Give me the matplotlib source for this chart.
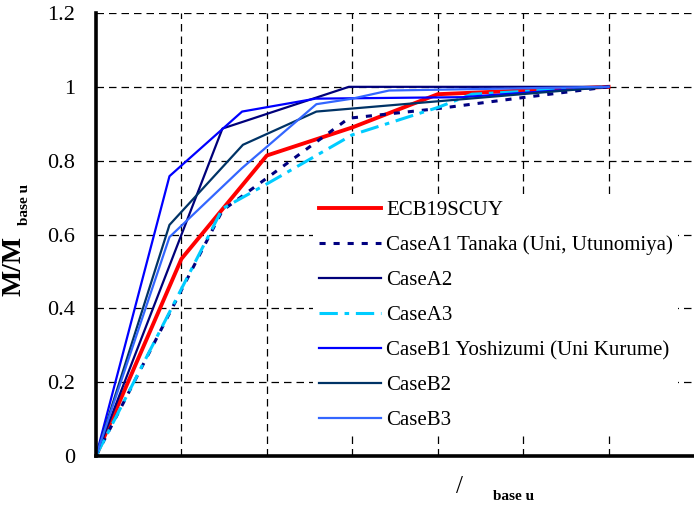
import numpy as np
import matplotlib
matplotlib.use("Agg")
import matplotlib.pyplot as plt

plt.rcParams["font.family"] = ["Liberation Serif", "DejaVu Serif"]

# rotation ratio (x) vs moment ratio (y) for each case
ecb_x = [0, 1.0, 2.0, 3.0, 4.0, 5.0, 6.0]
ecb_y = [0, 0.534, 0.814, 0.89, 0.98, 0.99, 1.0]

a1_x = [0, 1.48, 2.96, 4.0, 5.0, 6.0]
a1_y = [0, 0.665, 0.915, 0.941, 0.971, 1.0]

a2_x = [0, 1.48, 2.96, 6.0]
a2_y = [0, 0.887, 1.0, 1.0]

a3_x = [0, 1.48, 2.0, 3.0, 4.0, 4.4, 6.0]
a3_y = [0, 0.67, 0.737, 0.87, 0.944, 0.98, 1.0]

b1_x = [0, 0.86, 1.71, 2.57, 4.29, 6.0]
b1_y = [0, 0.758, 0.933, 0.968, 0.972, 1.0]

b2_x = [0, 0.86, 1.72, 2.58, 6.0]
b2_y = [0, 0.626, 0.843, 0.933, 1.0]

b3_x = [0, 0.86, 1.71, 2.58, 3.0, 3.43, 6.0]
b3_y = [0, 0.593, 0.78, 0.953, 0.968, 0.99, 1.0]

labels = [
    "ECB19SCUY",
    "CaseA1 Tanaka (Uni, Utunomiya)",
    "CaseA2",
    "CaseA3",
    "CaseB1 Yoshizumi (Uni Kurume)",
    "CaseB2",
    "CaseB3",
]

fig = plt.figure(figsize=(6.94, 5.08), dpi=100)
ax = fig.add_axes([96 / 694, 1 - 456 / 508, 1 - 96 / 694, (456 - 13) / 508])

ax.plot(ecb_x, ecb_y, color="#ff0000", lw=2.8, label=labels[0])
ax.plot(a1_x, a1_y, color="#000080", lw=2.2, ls=(0, (2.0, 2.6)), label=labels[1])
ax.plot(a2_x, a2_y, color="#00007a", lw=1.6, label=labels[2])
ax.plot(a3_x, a3_y, color="#00ccff", lw=2.2, ls=(0, (6, 2.2, 1.5, 2.2)), label=labels[3])
ax.plot(b1_x, b1_y, color="#0000ff", lw=1.6, label=labels[4])
ax.plot(b2_x, b2_y, color="#003366", lw=1.6, label=labels[5])
ax.plot(b3_x, b3_y, color="#3366ff", lw=1.6, label=labels[6])

ax.set_xlim(0, 7)
ax.set_ylim(0, 1.2)
ax.set_xticks(np.arange(1, 7))
ax.set_xticklabels([])
ax.set_yticks([0, 0.2, 0.4, 0.6, 0.8, 1.0, 1.2])
ax.set_yticklabels(["0", "0.2", "0.4", "0.6", "0.8", "1", "1.2"], fontsize=16)
ax.tick_params(length=0, pad=15)
ax.grid(True, color="black", lw=0.9, ls=(0, (6, 4)))
ax.set_axisbelow(True)

for side in ["top", "right"]:
    ax.spines[side].set_visible(False)
for side in ["left", "bottom"]:
    ax.spines[side].set_linewidth(2.6)

leg = ax.legend(
    loc="upper left",
    bbox_to_anchor=(303 / 694, 1 - 185 / 508),
    bbox_transform=fig.transFigure,
    frameon=True,
    fontsize=15,
    handlelength=3.0,
    handletextpad=0.25,
    labelspacing=0.74,
    borderpad=0.25,
)
leg.get_frame().set_edgecolor("none")
leg.get_frame().set_facecolor("white")
leg.get_frame().set_alpha(1)

# axis labels (the x symbol is missing in the source picture)
fig.text(14 / 694, 1 - 266 / 508, "M/M", rotation=90, fontsize=20, fontweight="bold",
         ha="center", va="center")
fig.text(25 / 694, 1 - 204 / 508, "base u", rotation=90, fontsize=11, fontweight="bold",
         ha="center", va="center")
fig.text(460 / 694, 1 - 487 / 508, "/", fontsize=18, ha="center", va="center")
fig.text(514 / 694, 1 - 497 / 508, "base u", fontsize=11, fontweight="bold",
         ha="center", va="center")

fig.savefig("out.png", dpi=100)
